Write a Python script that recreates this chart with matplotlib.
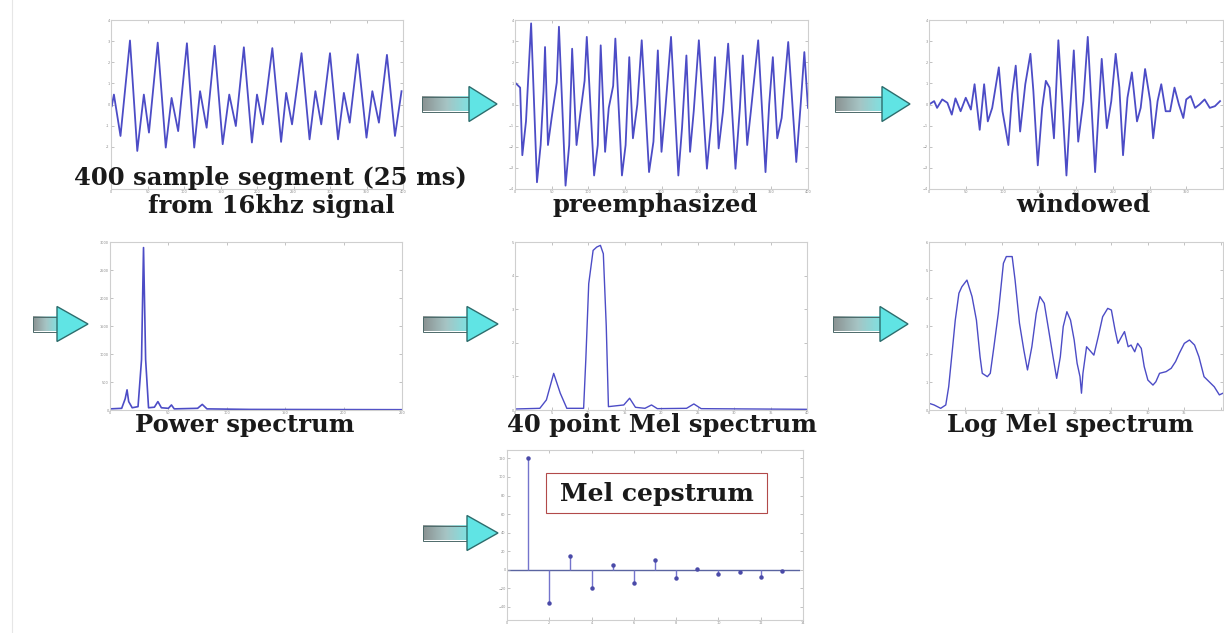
import numpy as np
import matplotlib
matplotlib.use("Agg")
import matplotlib.pyplot as plt
from matplotlib.patches import Rectangle, Polygon
from matplotlib.colors import LinearSegmentedColormap

W, H = 1224, 633

# ---- data ----
# 400 sample segment (sample index, amplitude x1000)
raw_s = [1, 4, 13, 26, 36, 45, 52, 64, 75, 83, 92, 104, 114, 122, 131, 142, 153, 162, 171,
         182, 193, 200, 208, 221, 233, 240, 248, 261, 272, 280, 288, 300, 311, 319, 327,
         338, 350, 358, 367, 378, 389, 398]
raw_v = [-0.08, 0.47, -1.49, 3.03, -2.2, 0.47, -1.33, 2.93, -2.04, 0.31, -1.26, 2.9, -2.04,
         0.63, -1.1, 2.78, -1.88, 0.47, -1.02, 2.71, -1.8, 0.47, -0.94, 2.67, -1.77, 0.55,
         -0.94, 2.43, -1.65, 0.63, -0.94, 2.43, -1.65, 0.55, -0.86, 2.38, -1.57, 0.63,
         -0.86, 2.35, -1.49, 0.63]

# preemphasized
pre_s = [0, 7, 10, 15, 18, 22, 30, 35, 39, 41, 45, 50, 57, 60, 69, 74, 78, 84, 89, 95, 98,
         108, 113, 117, 123, 128, 134, 137, 146, 151, 156, 161, 167, 173, 183, 189, 195,
         200, 205, 213, 223, 228, 234, 239, 244, 251, 262, 268, 273, 278, 284, 291, 301,
         307, 311, 317, 322, 332, 342, 347, 352, 358, 364, 373, 384, 390, 395, 400]
pre_v = [1.04, 0.8, -2.4, -0.8, 1.2, 3.84, -3.68, -1.92, 0.64, 2.72, -1.92, -0.64, 1.04,
         3.68, -3.84, -1.92, 2.64, -1.92, -0.48, 1.12, 3.2, -3.36, -1.92, 2.8, -2.24,
         -0.16, 0.88, 3.12, -3.36, -1.92, 2.24, -1.6, 0.0, 3.04, -3.2, -1.76, 2.56, -2.24,
         -0.32, 3.2, -3.36, -1.12, 2.32, -2.24, -0.32, 3.04, -3.04, -0.8, 2.24, -2.08,
         -0.32, 2.88, -3.04, -0.16, 2.32, -1.92, -0.32, 3.04, -3.2, 0.0, 2.24, -1.6, -0.64,
         2.96, -2.72, 0.0, 2.48, -0.16]

# windowed
win_s = [0, 7, 11, 18, 25, 31, 36, 43, 50, 57, 62, 69, 75, 80, 86, 95, 100, 108, 113, 118,
         124, 131, 138, 142, 148, 154, 159, 164, 170, 176, 182, 187, 192, 197, 203, 210,
         216, 221, 226, 231, 235, 242, 248, 254, 259, 264, 270, 276, 283, 288, 294, 301,
         305, 311, 316, 322, 328, 334, 340, 346, 350, 356, 362, 368, 375, 382, 389, 396]
win_v = [0.0, 0.16, -0.16, 0.24, 0.08, -0.48, 0.29, -0.32, 0.32, -0.24, 0.96, -1.2, 0.96,
         -0.8, -0.16, 1.76, -0.32, -1.92, 0.48, 1.84, -1.28, 0.96, 2.4, 0.64, -2.88, -0.16,
         1.12, 0.8, -1.6, 3.04, -0.32, -3.36, -0.32, 2.56, -1.76, 0.16, 3.2, 0.0, -3.2,
         -0.16, 2.16, -1.12, 0.16, 2.4, 0.8, -2.4, 0.32, 1.52, -0.8, -0.16, 1.68, 0.16,
         -1.6, 0.16, 0.96, -0.32, -0.32, 0.8, 0.0, -0.64, 0.24, 0.4, -0.16, 0.0, 0.24,
         -0.16, -0.08, 0.16]

# power spectrum
pow_f = [0, 10, 13, 14.6, 16, 19, 24, 27, 28.7, 30.5, 33, 38, 41, 44, 50, 52.6, 55, 75, 79,
         83, 120, 250]
pow_v = [20, 30, 200, 360, 150, 40, 60, 900, 2900, 900, 40, 50, 150, 40, 30, 90, 20, 30,
         100, 20, 10, 5]

# 40 point mel spectrum
mel_k = [0, 3.4, 4.3, 5.3, 6.2, 7.1, 9.4, 9.7, 10.1, 10.7, 11.2, 11.7, 12.1, 12.5, 12.8,
         14.9, 15.7, 16.5, 17.8, 18.7, 19.5, 23.5, 24.5, 25.5, 40]
mel_v = [0.03, 0.05, 0.3, 1.09, 0.5, 0.05, 0.05, 1.5, 3.76, 4.75, 4.85, 4.9, 4.65, 2.5, 0.1,
         0.15, 0.35, 0.08, 0.05, 0.15, 0.04, 0.05, 0.18, 0.04, 0.02]

# log mel spectrum
log_k = [0, 0.7, 1.6, 2.3, 2.7, 3.2, 3.6, 4.1, 4.5, 5.2, 5.9, 6.5, 7.0, 7.3, 8.0, 8.4, 8.9,
         9.5, 10.2, 10.6, 11.4, 11.8, 12.4, 13.0, 13.5, 14.1, 14.7, 15.2, 15.8, 16.4, 17.0,
         17.5, 18.0, 18.4, 18.9, 19.4, 19.9, 20.3, 20.7, 20.9, 21.1, 21.6, 22.0, 22.6,
         23.2, 23.8, 24.5, 25.0, 25.5, 25.9, 26.4, 26.8, 27.3, 27.7, 28.2, 28.6, 29.1,
         29.5, 30.0, 30.7, 31.1, 31.6, 32.5, 33.2, 33.8, 34.3, 35.0, 35.7, 36.4, 37.0,
         37.7, 38.4, 39.1, 39.8, 40.3]
log_v = [0.24, 0.18, 0.06, 0.18, 0.83, 2.14, 3.21, 4.17, 4.4, 4.64, 4.05, 3.21, 1.9, 1.31,
         1.19, 1.31, 2.26, 3.45, 5.24, 5.48, 5.48, 4.64, 3.1, 2.14, 1.43, 2.26, 3.45, 4.05,
         3.81, 2.86, 1.9, 1.13, 1.9, 2.98, 3.51, 3.21, 2.5, 1.67, 1.19, 0.6, 1.31, 2.26,
         2.14, 1.96, 2.62, 3.33, 3.63, 3.57, 2.86, 2.38, 2.62, 2.8, 2.26, 2.32, 2.08, 2.38,
         2.2, 1.55, 1.07, 0.89, 1.01, 1.31, 1.37, 1.49, 1.73, 2.02, 2.38, 2.5, 2.32, 1.9,
         1.19, 1.01, 0.83, 0.54, 0.6]

# mel cepstrum coefficients 1..13
cep_n = list(range(1, 14))
cep_v = [120, -36, 15, -20, 5, -14, 11, -9, 1, -5, -2.5, -8, -1]

titles = [
    ("400 sample segment (25 ms)", 270, 178),
    ("from 16khz signal", 271, 206),
    ("preemphasized", 655, 205),
    ("windowed", 1083, 205),
    ("Power spectrum", 245, 425),
    ("40 point Mel spectrum", 662, 425),
    ("Log Mel spectrum", 1070, 425),
]

LINE = "#4c4cc6"
fig = plt.figure(figsize=(W / 100, H / 100), dpi=100)
fig.patch.set_facecolor("white")


def box(l, t, r, b):
    ax = fig.add_axes([l / W, 1 - b / H, (r - l) / W, (b - t) / H])
    for sp in ax.spines.values():
        sp.set_color("#cfcfcf")
        sp.set_linewidth(0.8)
    ax.tick_params(direction="in", length=2, width=0.5, colors="#aaaaaa",
                   labelsize=2.5, labelcolor="#8a8a8a", top=True, right=True, pad=1)
    return ax


ax1 = box(111, 20, 403, 189)
ax1.plot(raw_s, raw_v, color=LINE, lw=1.3)
ax1.set_xlim(0, 400); ax1.set_ylim(-4, 4)
ax1.set_xticks(range(0, 401, 50)); ax1.set_yticks(range(-4, 5))
# the two lowest labels sit under the caption in the original
ax1.set_yticklabels(["", ""] + [str(v) for v in range(-2, 5)])

ax2 = box(515, 20, 808, 189)
ax2.plot(pre_s, pre_v, color=LINE, lw=1.3)
ax2.set_xlim(0, 400); ax2.set_ylim(-4, 4)
ax2.set_xticks(range(0, 401, 50)); ax2.set_yticks(range(-4, 5))

ax3 = box(929, 20, 1223, 189)
ax3.plot(win_s, win_v, color=LINE, lw=1.3)
ax3.set_xlim(0, 400); ax3.set_ylim(-4, 4)
ax3.set_xticks(range(0, 401, 50)); ax3.set_yticks(range(-4, 5))
ax3.set_xticklabels([str(v) for v in range(0, 351, 50)] + [""])

ax4 = box(110, 242, 402, 410)
ax4.plot(pow_f, pow_v, color=LINE, lw=1.2)
ax4.set_xlim(0, 250); ax4.set_ylim(0, 3000)
ax4.set_xticks(range(0, 251, 50)); ax4.set_yticks(range(0, 3001, 500))

ax5 = box(515, 242, 807, 410)
ax5.plot(mel_k, mel_v, color=LINE, lw=1.0)
ax5.set_xlim(0, 40); ax5.set_ylim(0, 5)
ax5.set_xticks(range(0, 41, 5)); ax5.set_yticks(range(0, 6))

ax6 = box(929, 242, 1223, 410)
ax6.plot(log_k, log_v, color=LINE, lw=1.0)
ax6.set_xlim(0, 40.3); ax6.set_ylim(0, 6)
ax6.set_xticks(range(0, 41, 5)); ax6.set_yticks(range(0, 7))
ax6.set_xticklabels([str(v) for v in range(0, 36, 5)] + [""])

ax7 = box(507, 450, 803, 620)
ml, sl, bl = ax7.stem(cep_n, cep_v, linefmt="-", markerfmt="o", basefmt=" ")
plt.setp(sl, color="#7474cc", linewidth=1.0)
plt.setp(ml, color="#4a4aa8", markersize=2.2)
ax7.axhline(0, xmin=0, xmax=0.985, color="#5a64a0", lw=1.0, zorder=1)
ax7.set_xlim(0, 14); ax7.set_ylim(-54, 129)
ax7.set_xticks(range(0, 15, 2)); ax7.set_yticks(range(-40, 121, 20))

# overlay in pixel units for arrows and captions
ov = fig.add_axes([0, 0, 1, 1])
ov.set_zorder(10)
ov.patch.set_alpha(0)
ov.axis("off")

ov.plot([12, 12], [0, H], color="#e6e6e6", lw=0.8)

grad = LinearSegmentedColormap.from_list("g", ["#8a9292", "#a6c4c4", "#7ee2e2"])
g = np.linspace(0, 1, 64).reshape(1, -1)
arrows = [(422, 469, 497, 104), (835, 882, 910, 104), (33, 57, 88, 324),
          (423, 467, 498, 324), (833, 880, 908, 324), (423, 467, 498, 533)]
for x0, xb, xt, yc in arrows:
    ov.imshow(g, cmap=grad, extent=(x0, xb + 2, yc + 7.5, yc - 7.5), aspect="auto",
              interpolation="bilinear", zorder=2)
    ov.add_patch(Rectangle((x0, yc - 7.5), xb + 2 - x0, 15, fill=False,
                           edgecolor="#4d6a6a", lw=0.7, zorder=3))
    ov.add_patch(Polygon([(xb, yc - 17.5), (xb, yc + 17.5), (xt, yc)], closed=True,
                         facecolor="#60e4e4", edgecolor="#2d6d6d", lw=1.0, zorder=4))

for s, cx, cy in titles:
    ov.text(cx, cy, s, ha="center", va="center", fontsize=17.5, fontfamily="DejaVu Serif",
            fontweight="bold", color="#1a1a1a", zorder=6)

ov.add_patch(Rectangle((546, 473), 221, 40, facecolor="white", edgecolor="#b24a4a",
                       lw=0.8, zorder=5))
ov.text(657, 494, "Mel cepstrum", ha="center", va="center", fontsize=18,
        fontfamily="DejaVu Serif", fontweight="bold", color="#1a1a1a", zorder=6)

ov.set_xlim(0, W)
ov.set_ylim(H, 0)

fig.savefig("out.png", dpi=100, facecolor="white")
